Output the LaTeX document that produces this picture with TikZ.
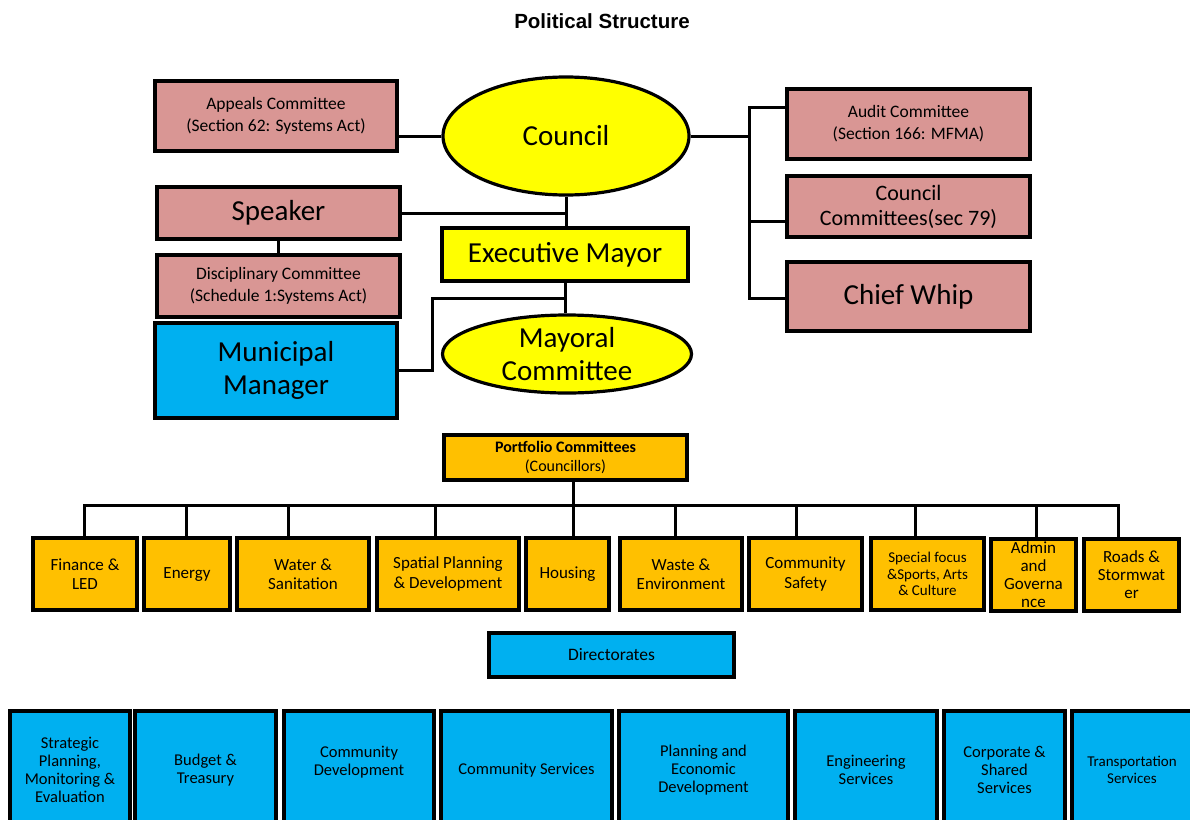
\documentclass[tikz,border=0pt]{standalone}
\usepackage{fontspec}
\setmainfont{Carlito}
\newfontfamily\titlefont{Liberation Sans}
\usetikzlibrary{shapes.geometric}

\definecolor{pinkfill}{HTML}{D99694}
\definecolor{yellowfill}{HTML}{FFFF00}
\definecolor{bluefill}{HTML}{00B0F0}
\definecolor{goldfill}{HTML}{FFC000}

% font sizes (1pt = 1 output pixel)
\newcommand\szBig{\fontsize{29}{33.5}\selectfont}
\newcommand\szMid{\fontsize{22}{25}\selectfont}
\newcommand\szSmall{\fontsize{17.5}{22}\selectfont}
\newcommand\szRow{\fontsize{17}{19.5}\selectfont}
\newcommand\szTight{\fontsize{17}{18}\selectfont}
\newcommand\szBottom{\fontsize{16.5}{18}\selectfont}
\newcommand\szLess{\fontsize{15}{16.5}\selectfont}

\tikzset{
  box/.style={draw=black, line width=3.2pt, rectangle, inner sep=1pt,
              align=center, text=black},
  pinkbox/.style={box, fill=pinkfill},
  yellowbox/.style={box, fill=yellowfill},
  bluebox/.style={box, fill=bluefill},
  goldbox/.style={box, fill=goldfill},
  oval/.style={draw=black, line width=3.2pt, ellipse, inner sep=0pt,
               align=center, fill=yellowfill, text=black},
  link/.style={draw=black, line width=3pt, line join=miter},
  rowbox/.style={goldbox, minimum height=72, font=\szRow},
  dirbox/.style={bluebox, minimum height=118, font=\szBottom},
}

\begin{document}
\begin{tikzpicture}[x=1pt, y=-1pt]
\useasboundingbox (0,0) rectangle (1190,819);
\clip (0,0) rectangle (1190,819);

% title
\node[font=\titlefont\bfseries\fontsize{20.5}{24}\selectfont] (title) at (602,21) {Political Structure};

% ---- council level ----
\node[oval, minimum width=246, minimum height=118, font=\szBig] (council) at (566,136) {Council};
\node[pinkbox, minimum width=242, minimum height=70, font=\szSmall] (appeals) at (276,116)
  {Appeals Committee\\(Section 62: Systems Act)};
\node[pinkbox, minimum width=243, minimum height=52, font=\szBig] (speaker) at (278.5,213) {Speaker};
\node[pinkbox, minimum width=243, minimum height=62, font=\szSmall] (disc) at (278.5,286)
  {Disciplinary Committee\\(Schedule 1:Systems Act)};
\node[bluebox, minimum width=242, minimum height=95, font=\szBig] (mm) at (276,370.5)
  {Municipal\\Manager};
\node[yellowbox, minimum width=246, minimum height=53, font=\szBig] (exec) at (565,254.5) {Executive Mayor};
\node[oval, minimum width=249, minimum height=78, font=\szBig] (mayoral) at (567,354)
  {Mayoral\\Committee};

\node[pinkbox, minimum width=243, minimum height=70, font=\szSmall] (audit) at (908.5,124)
  {Audit Committee\\(Section 166: MFMA)};
\node[pinkbox, minimum width=243, minimum height=61, font=\szMid] (cc) at (908.5,206.5)
  {Council\\Committees(sec 79)};
\node[pinkbox, minimum width=243, minimum height=69, font=\szBig] (cw) at (908.5,296.5) {Chief Whip};

% connectors around the council
\draw[link] (council.west) -- (council.west -| appeals.east);
\coordinate (ra) at (749,107);
\coordinate (rb) at (749,221);
\coordinate (rc) at (749,298);
\draw[link] (council.east) -- (council.east -| ra);
\draw[link] (ra -| audit.west) -- (ra) -- (rc) -- (rc -| cw.west);
\draw[link] (rb) -- (rb -| cc.west);
\draw[link] (council.south) -- (council.south |- exec.north);
\draw[link] (speaker.east) -- (speaker.east -| exec.north);
\draw[link] (speaker.south) -- (disc.north);
\draw[link] (exec.south) -- (exec.south |- mayoral.north);
\coordinate (mmk) at (432,298);
\draw[link] (mm.east) -- (mm.east -| mmk) -- (mmk) -- (mmk -| exec.south);

% ---- portfolio committees ----
\node[goldbox, minimum width=243, minimum height=45, font=\fontsize{16}{19}\selectfont] (portfolio) at (565.5,457.5)
  {\textbf{Portfolio Committees}\\(Councillors)};

\node[rowbox, minimum width=104] (finance) at (85,574) {Finance \&\\LED};
\node[rowbox, minimum width=86] (energy) at (187,574) {Energy};
\node[rowbox, minimum width=132] (water) at (303,574) {Water \&\\Sanitation};
\node[rowbox, minimum width=142] (spatial) at (448,574) {Spatial Planning\\\& Development};
\node[rowbox, minimum width=83] (housing) at (567.5,574) {Housing};
\node[rowbox, minimum width=122] (waste) at (681,574) {Waste \&\\Environment};
\node[rowbox, minimum width=113] (safety) at (805.5,574) {Community\\Safety};
\node[rowbox, minimum width=113, font=\szLess] (special) at (927.5,574)
  {Special focus\\\&Sports, Arts\\\& Culture};
\node[rowbox, minimum width=85, font=\szTight] (admin) at (1033.5,575) {Admin\\and\\Governa\\nce};
\node[rowbox, minimum width=95, font=\szTight] (roads) at (1131.5,575) {Roads \&\\Stormwat\\er};

% bus from the portfolio committees to each portfolio
\coordinate (pb) at (573,505);
\coordinate (bl) at (84,505);
\coordinate (br) at (1118,505);
\draw[link] (pb |- portfolio.south) -- (pb);
\draw[link] (bl |- finance.north) -- (bl) -- (br) -- (br |- roads.north);
\foreach \sx/\tgt in {186/energy, 288/water, 435/spatial, 573/housing,
                      675/waste, 796/safety, 915/special, 1036/admin}{
  \coordinate (s-\tgt) at (\sx,505);
  \draw[link] (s-\tgt) -- (s-\tgt |- \tgt.north);
}

% ---- directorates ----
\node[bluebox, minimum width=245, minimum height=44, font=\fontsize{17.5}{20}\selectfont] (directorates) at (611.5,655) {Directorates};

\node[dirbox, minimum width=120] (strategic) at (70,770) {Strategic\\Planning,\\Monitoring \&\\Evaluation};
\node[dirbox, minimum width=141] (budget) at (205.5,770) {Budget \&\\Treasury};
\node[dirbox, minimum width=150] (commdev) at (359,770) {Community\\Development\\\mbox{}};
\node[dirbox, minimum width=171] (commserv) at (526.5,770) {Community Services};
\node[dirbox, minimum width=169] (planning) at (703.5,770) {Planning and\\Economic\\Development};
\node[dirbox, minimum width=142] (engineering) at (866,770) {Engineering\\Services};
\node[dirbox, minimum width=121] (corporate) at (1004.5,770) {Corporate \&\\Shared\\Services};
\node[dirbox, minimum width=120, font=\szLess] (transport) at (1132,770) {Transportation\\Services};
\end{tikzpicture}
\end{document}
